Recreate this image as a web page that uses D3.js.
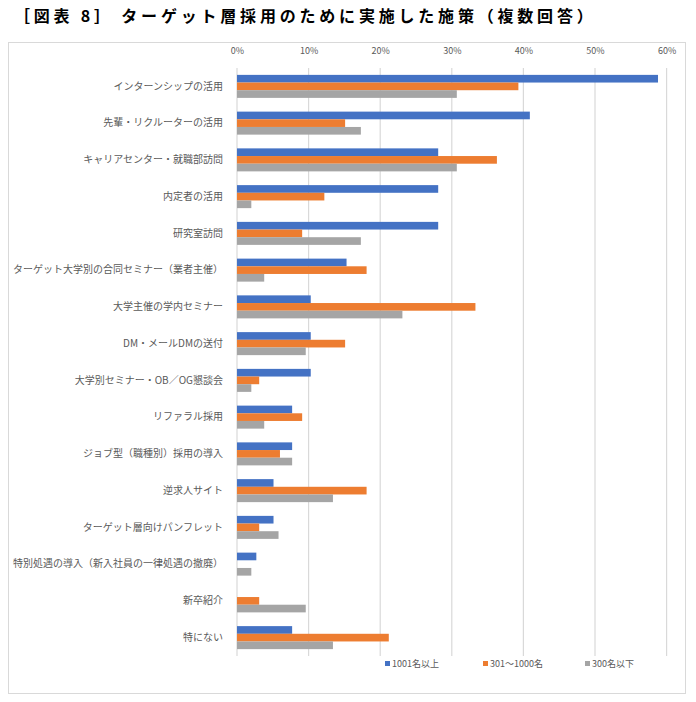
<!DOCTYPE html>
<html>
<head>
<meta charset="utf-8">
<script src="https://cdn.jsdelivr.net/npm/d3@7"></script>
<style>
  body { margin: 0; background: #fff; }
  text { font-family: "Noto Sans CJK JP", "Noto Sans", sans-serif; }
</style>
</head>
<body>
<div id="chart"></div>
<script>
// categories, top to bottom
const categories = [
    "インターンシップの活用",
    "先輩・リクルーターの活用",
    "キャリアセンター・就職部訪問",
    "内定者の活用",
    "研究室訪問",
    "ターゲット大学別の合同セミナー（業者主催）",
    "大学主催の学内セミナー",
    "DM・メールDMの送付",
    "大学別セミナー・OB／OG懇談会",
    "リファラル採用",
    "ジョブ型（職種別）採用の導入",
    "逆求人サイト",
    "ターゲット層向けパンフレット",
    "特別処遇の導入（新入社員の一律処遇の撤廃）",
    "新卒紹介",
    "特にない"
];
const seriesNames = ["1001名以上", "301〜1000名", "300名以下"];
const large = [58.8, 40.9, 28.1, 28.1, 28.1, 15.3, 10.3, 10.3, 10.3, 7.7, 7.7, 5.1, 5.1, 2.7, 0, 7.7];
const medium = [39.3, 15.1, 36.3, 12.2, 9.1, 18.1, 33.3, 15.1, 3.1, 9.1, 6.0, 18.1, 3.1, 0, 3.1, 21.2];
const small = [30.7, 17.3, 30.7, 2.0, 17.3, 3.8, 23.1, 9.6, 2.0, 3.8, 7.7, 13.4, 5.8, 2.0, 9.6, 13.4];
const tickValues = [0, 10, 20, 30, 40, 50, 60];
const colors = ["#4472C4", "#ED7D31", "#A5A5A5"];

const width = 696, height = 702;
const margin = {top: 68, right: 30, bottom: 46, left: 237};

const svg = d3.select("#chart")
    .append("svg")
    .attr("width", width)
    .attr("height", height);

// title
svg.append("text")
    .attr("x", 14)
    .attr("y", 22)
    .style("font-size", "16px")
    .style("font-weight", "bold")
    .style("letter-spacing", "3.8px")
    .attr("fill", "#000")
    .text("［図表 8］ ターゲット層採用のために実施した施策（複数回答）");

// chart frame
svg.append("rect")
    .attr("x", 8.5)
    .attr("y", 42.5)
    .attr("width", 677)
    .attr("height", 651)
    .attr("fill", "none")
    .attr("stroke", "#d9d9d9");

const x = d3.scaleLinear()
    .domain([0, 60])
    .range([margin.left, margin.left + 429.6]);

const y = d3.scaleBand()
    .domain(categories)
    .range([margin.top, height - margin.bottom])
    .paddingInner(0.374)
    .paddingOuter(0.187);

const ySub = d3.scaleBand()
    .domain(seriesNames)
    .range([0, y.bandwidth()]);

// gridlines
svg.append("g")
    .selectAll("line")
    .data(tickValues)
    .enter()
    .append("line")
    .attr("x1", d => x(d))
    .attr("x2", d => x(d))
    .attr("y1", margin.top)
    .attr("y2", height - margin.bottom)
    .attr("stroke", "#d9d9d9")
    .attr("stroke-width", 1.2);

// top axis labels
const xAxis = svg.append("g")
    .attr("transform", "translate(0," + (margin.top - 11) + ")")
    .call(d3.axisTop(x).tickValues(tickValues).tickSize(0).tickFormat(d => d + "%"));
xAxis.select(".domain").remove();
xAxis.selectAll("text")
    .style("font-size", "9px")
    .attr("fill", "#595959");

// category labels
const yAxis = svg.append("g")
    .attr("transform", "translate(" + (margin.left - 11) + ",0)")
    .call(d3.axisLeft(y).tickSize(0));
yAxis.select(".domain").remove();
yAxis.selectAll("text")
    .style("font-size", "10px")
    .attr("fill", "#595959");

// bars
const seriesData = [large, medium, small];
seriesData.forEach(function (values, s) {
    svg.append("g")
        .selectAll("rect")
        .data(values)
        .enter()
        .append("rect")
        .attr("x", x(0))
        .attr("y", (d, i) => y(categories[i]) + ySub(seriesNames[s]))
        .attr("width", d => x(d) - x(0))
        .attr("height", ySub.bandwidth())
        .attr("fill", colors[s]);
});

// legend
const legendX = [385, 483, 585];
const legend = svg.append("g");
legend.selectAll("rect")
    .data(seriesNames)
    .enter()
    .append("rect")
    .attr("x", (d, i) => legendX[i])
    .attr("y", 661)
    .attr("width", 5)
    .attr("height", 5)
    .attr("fill", (d, i) => colors[i]);
legend.selectAll("text")
    .data(seriesNames)
    .enter()
    .append("text")
    .attr("x", (d, i) => legendX[i] + 7)
    .attr("y", 667)
    .style("font-size", "9px")
    .attr("fill", "#595959")
    .text(d => d);
</script>
</body>
</html>
